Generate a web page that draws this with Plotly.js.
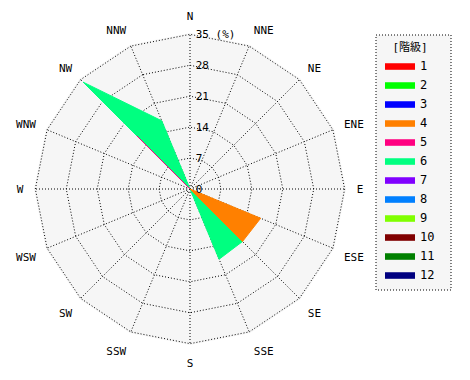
<!DOCTYPE html>
<html><head><meta charset="utf-8">
<script src="https://cdn.plot.ly/plotly-3.0.1.min.js"></script>
<style>body{margin:0;background:#fff}#c{width:470px;height:380px}</style>
</head><body><div id="c"></div>
<script>
const directions = ['N','NNE','NE','ENE','E','ESE','SE','SSE','S','SSW','SW','WSW','W','WNW','NW','NNW'];
const classNames = ['1','2','3','4','5','6','7','8','9','10','11','12'];
const classColors = ['#ff0000','#00ff00','#0000ff','#ff8000','#ff0080','#00ff80','#8000ff','#0080ff','#80ff00','#800000','#008000','#000080'];
//                N  NNE NE ENE E  ESE   SE    SSE   S  SSW SW WSW W  WNW NW    NNW
const class1  = [0, 0, 0, 0, 0, 0,    0,    0,    0, 0, 0, 0, 0, 0, 0,    0];
const class2  = [0, 0, 0, 0, 0, 0,    0,    0,    0, 0, 0, 0, 0, 0, 0,    0];
const class3  = [0, 0, 0, 0, 0, 0,    0,    0,    0, 0, 0, 0, 0, 0, 0,    0];
const class4  = [0, 0, 0, 0, 0, 17.3, 16.8, 0,    0, 0, 0, 0, 0, 0, 0,    0];
const class5  = [0, 0, 0, 0, 0, 0,    0,    0,    0, 0, 0, 0, 0, 0, 17,   0];
const class6  = [0, 0, 0, 0, 0, 0,    16.8, 17.2, 0, 0, 0, 0, 0, 0, 34.2, 16.7];
const class7  = [0, 0, 0, 0, 0, 0,    0,    0,    0, 0, 0, 0, 0, 0, 0,    0];
const class8  = [0, 0, 0, 0, 0, 0,    0,    0,    0, 0, 0, 0, 0, 0, 0,    0];
const class9  = [0, 0, 0, 0, 0, 0,    0,    0,    0, 0, 0, 0, 0, 0, 0,    0];
const class10 = [0, 0, 0, 0, 0, 0,    0,    0,    0, 0, 0, 0, 0, 0, 0,    0];
const class11 = [0, 0, 0, 0, 0, 0,    0,    0,    0, 0, 0, 0, 0, 0, 0,    0];
const class12 = [0, 0, 0, 0, 0, 0,    0,    0,    0, 0, 0, 0, 0, 0, 0,    0];
const radialTicks = [0, 7, 14, 21, 28, 35];
const radialTickText = ['0', '7', '14', '21', '28', '35 (%)'];

const allClasses = [class1,class2,class3,class4,class5,class6,class7,class8,class9,class10,class11,class12];
const font = 'DejaVu Sans Mono, Noto Sans CJK JP, monospace';

const traces = allClasses.map((vals, i) => ({
  type: 'scatterpolar',
  r: vals.concat([vals[0]]),
  theta: directions.concat([directions[0]]),
  mode: 'lines',
  fill: 'toself',
  fillcolor: classColors[i],
  line: {color: classColors[i], width: 1},
  name: classNames[i],
  hoverinfo: 'skip'
})).reverse();

const layout = {
  width: 470, height: 380,
  margin: {l: 0, r: 0, t: 0, b: 0},
  paper_bgcolor: '#ffffff',
  font: {family: font, size: 11, color: '#000'},
  showlegend: true,
  polar: {
    domain: {x: [34/470, 346/470], y: [1 - 345/380, 1 - 33/380]},
    bgcolor: '#f6f6f6',
    gridshape: 'linear',
    radialaxis: {
      range: [0, 35.3],
      tickvals: radialTicks,
      ticktext: radialTickText,
      angle: 90,
      side: 'clockwise',
      tickangle: 90,
      showline: false,
      ticks: 'outside',
      ticklen: 3,
      tickcolor: 'rgba(0,0,0,0)',
      showgrid: true,
      gridcolor: '#000',
      griddash: '1px,2px',
      gridwidth: 1,
      tickfont: {family: font, size: 11, color: '#000'}
    },
    angularaxis: {
      type: 'category',
      categoryarray: directions,
      direction: 'clockwise',
      rotation: 90,
      showline: false,
      ticks: 'outside',
      ticklen: 8,
      tickcolor: 'rgba(0,0,0,0)',
      gridcolor: '#000',
      griddash: '1px,2px',
      gridwidth: 1,
      tickfont: {family: font, size: 11, color: '#000'}
    }
  },
  legend: {
    x: 380/470, xanchor: 'left',
    y: 1 - 37/380, yanchor: 'top',
    bgcolor: 'rgba(0,0,0,0)',
    borderwidth: 0,
    title: {text: '[階級]', side: 'top center', font: {family: font, size: 11}},
    font: {family: font, size: 12},
    traceorder: 'reversed'
  },
  shapes: [{
    type: 'rect', xref: 'paper', yref: 'paper', layer: 'below',
    x0: 376/470, x1: 451/470, y0: 1 - 35/380, y1: 1 - 290/380,
    fillcolor: '#f6f6f6',
    line: {color: '#000', width: 1, dash: '1px,2px'}
  }]
};
Plotly.newPlot('c', traces, layout, {displayModeBar: false, staticPlot: true});
</script></body></html>
